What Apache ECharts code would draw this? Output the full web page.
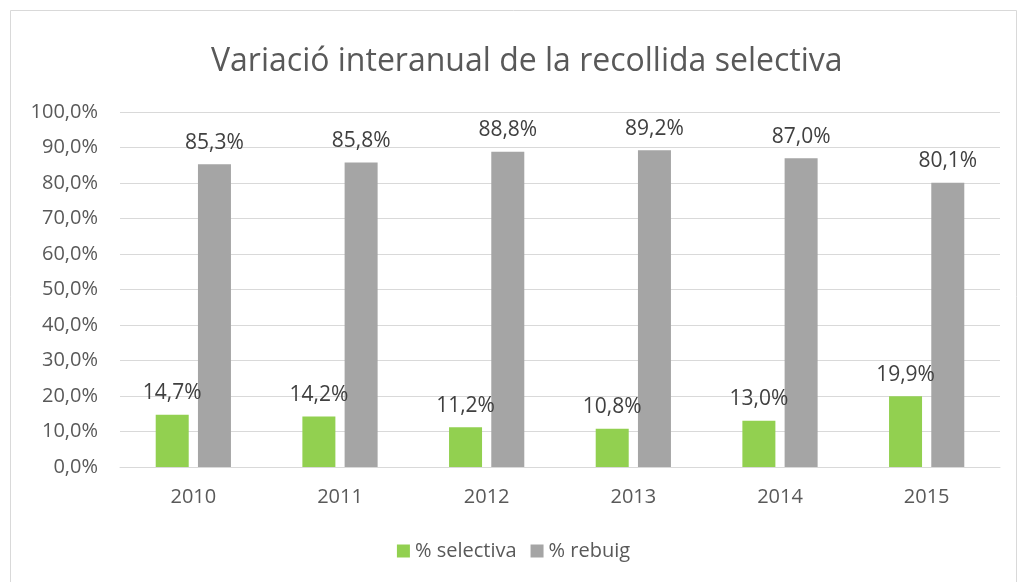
<!DOCTYPE html>
<html>
<head>
<meta charset="utf-8">
<script src="https://cdn.jsdelivr.net/npm/echarts@6/dist/echarts.min.js"></script>
<style>
  html, body { margin: 0; padding: 0; background: #fff; }
  #chart { width: 1027px; height: 582px; }
</style>
</head>
<body>
<div id="chart"></div>
<script>
// dades
var anys = ['2010', '2011', '2012', '2013', '2014', '2015'];
var selectiva = [14.7, 14.2, 11.2, 10.8, 13.0, 19.9];
var rebuig = [85.3, 85.8, 88.8, 89.2, 87.0, 80.1];

var fontFam = 'Open Sans, Noto Sans, sans-serif';

function pct(v) {
  return v.toFixed(1).replace('.', ',') + '%';
}

var chart = echarts.init(document.getElementById('chart'));
chart.setOption({
  backgroundColor: '#fff',
  animation: false,
  graphic: [{
    type: 'rect',
    shape: { x: 10.5, y: 10.5, width: 1006, height: 580 },
    style: { fill: 'none', stroke: '#d9d9d9', lineWidth: 1 }
  }],
  title: {
    text: 'Variació interanual de la recollida selectiva',
    left: 206,
    top: 41,
    textStyle: { color: '#595959', fontSize: 32, fontWeight: 'normal', fontFamily: fontFam }
  },
  legend: {
    bottom: 16,
    left: 'center',
    itemWidth: 13,
    itemHeight: 13,
    itemGap: 14,
    icon: 'rect',
    textStyle: { color: '#595959', fontSize: 20, fontFamily: fontFam },
    data: ['% selectiva', '% rebuig']
  },
  grid: { left: 120, right: 27, top: 112, bottom: 115 },
  xAxis: {
    type: 'category',
    data: anys,
    axisTick: { show: false },
    axisLine: { lineStyle: { color: '#d9d9d9' } },
    axisLabel: { color: '#595959', fontSize: 20, fontFamily: fontFam, margin: 20 }
  },
  yAxis: {
    type: 'value',
    min: 0,
    max: 100,
    interval: 10,
    axisLine: { show: false },
    axisTick: { show: false },
    splitLine: { lineStyle: { color: '#d9d9d9' } },
    axisLabel: {
      color: '#595959', fontSize: 20, fontFamily: fontFam, margin: 22,
      formatter: function (v) { return pct(v); }
    }
  },
  series: [
    {
      name: '% selectiva',
      type: 'bar',
      data: selectiva,
      barWidth: '22.5%',
      barGap: '28%',
      itemStyle: { color: '#92d050' },
      label: {
        show: true, position: 'top', distance: 11,
        color: '#404040', fontSize: 21, fontFamily: fontFam,
        formatter: function (p) { return pct(p.value); }
      }
    },
    {
      name: '% rebuig',
      type: 'bar',
      data: rebuig,
      barWidth: '22.5%',
      itemStyle: { color: '#a5a5a5' },
      label: {
        show: true, position: 'top', distance: 11,
        color: '#404040', fontSize: 21, fontFamily: fontFam,
        formatter: function (p) { return pct(p.value); }
      }
    }
  ]
});
</script>
</body>
</html>
